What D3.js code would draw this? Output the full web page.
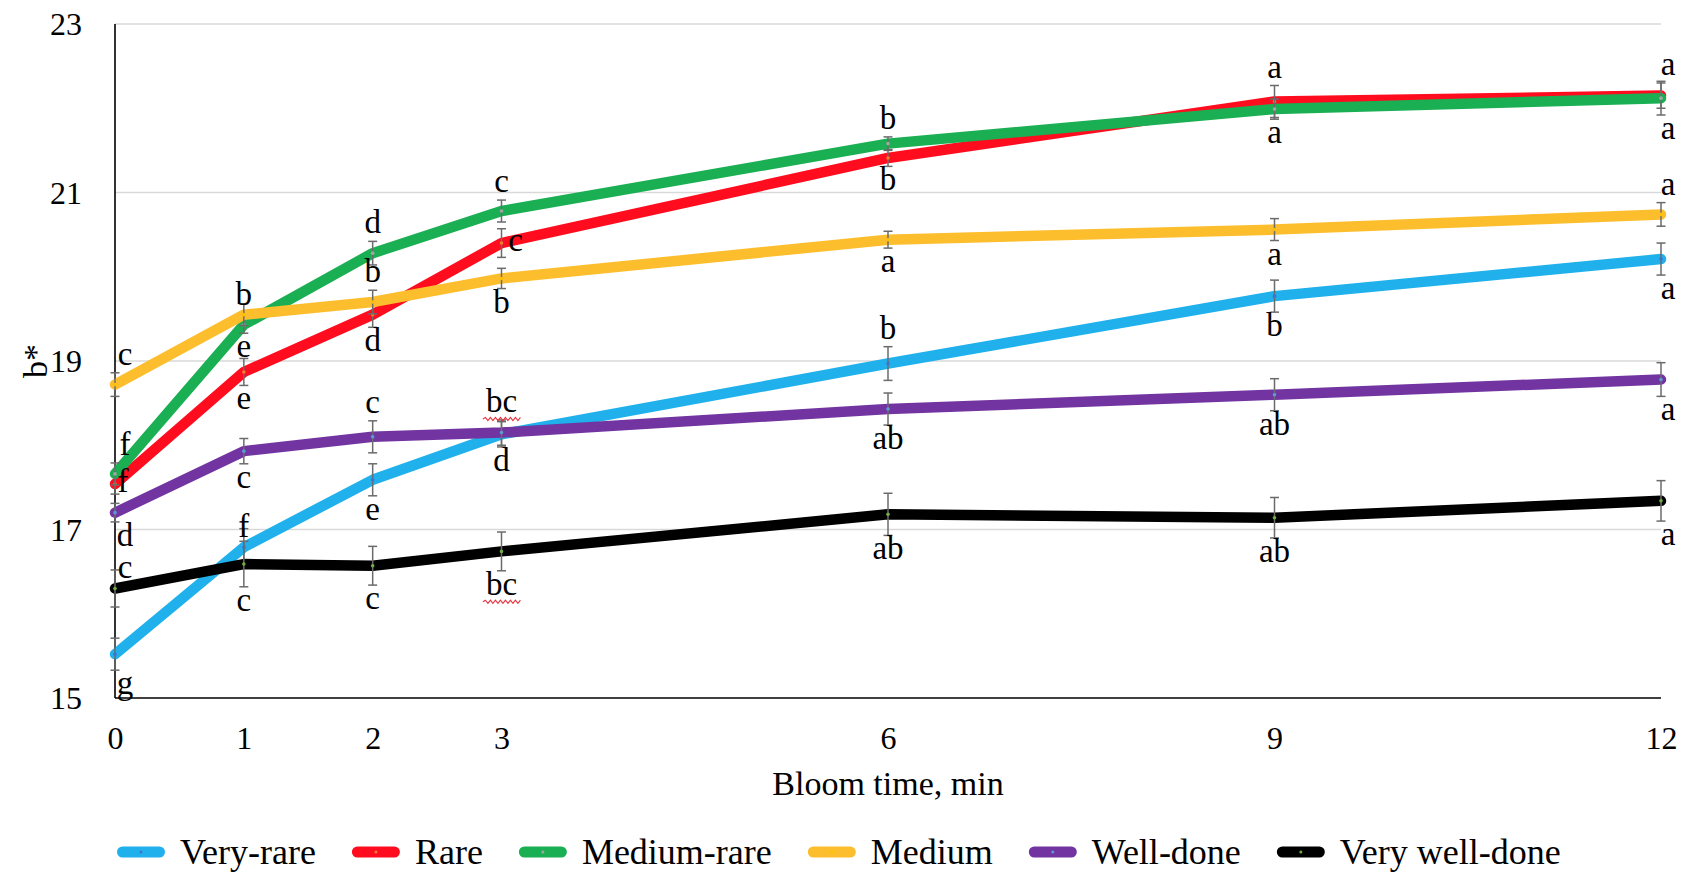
<!DOCTYPE html>
<html>
<head>
<meta charset="utf-8">
<script src="https://cdn.jsdelivr.net/npm/d3@7"></script>
<style>
  html, body { margin: 0; padding: 0; background: #ffffff; }
  svg { display: block; }
  text { font-family: "Liberation Serif", "Times New Roman", serif; fill: #000; }
</style>
</head>
<body>
<svg id="chart" width="1692" height="872"></svg>
<script>
// ---------------- DATA ----------------
const bloomTimes = [0, 1, 2, 3, 6, 9, 12];
const yTicks = [15, 17, 19, 21, 23];
const seriesNames = ["Very-rare", "Rare", "Medium-rare", "Medium", "Well-done", "Very well-done"];

const veryRare      = [15.52, 16.79, 17.59, 18.13, 18.97, 19.77, 20.21];
const rare          = [17.54, 18.87, 19.55, 20.40, 21.41, 22.08, 22.15];
const mediumRare    = [17.66, 19.43, 20.28, 20.78, 21.58, 21.99, 22.12];
const medium        = [18.72, 19.55, 19.70, 19.98, 20.44, 20.56, 20.74];
const wellDone      = [17.20, 17.93, 18.10, 18.15, 18.43, 18.60, 18.78];
const veryWellDone  = [16.30, 16.59, 16.57, 16.74, 17.18, 17.14, 17.34];

const veryRareErr     = [0.19, 0.22, 0.19, 0.15, 0.20, 0.19, 0.19];
const rareErr         = [0.12, 0.16, 0.15, 0.17, 0.10, 0.19, 0.15];
const mediumRareErr   = [0.13, 0.10, 0.14, 0.13, 0.08, 0.12, 0.20];
const mediumErr       = [0.14, 0.13, 0.14, 0.12, 0.10, 0.13, 0.14];
const wellDoneErr     = [0.11, 0.15, 0.19, 0.15, 0.19, 0.19, 0.20];
const veryWellDoneErr = [0.22, 0.27, 0.23, 0.23, 0.25, 0.24, 0.24];

const veryRareLetters     = ["g", "f", "e", "d", "b", "b", "a"];
const rareLetters         = ["f", "e", "d", "c", "b", "a", "a"];
const mediumRareLetters   = ["f", "e", "d", "c", "b", "a", "a"];
const mediumLetters       = ["c", "b", "b", "b", "a", "a", "a"];
const wellDoneLetters     = ["d", "c", "c", "bc", "ab", "ab", "a"];
const veryWellDoneLetters = ["c", "c", "c", "bc", "ab", "ab", "a"];

// where each letter sits relative to its point
const veryRareSide     = ["below", "over", "below", "below", "above", "below", "below"];
const rareSide         = ["right", "below", "below", "right", "below", "above", "above"];
const mediumRareSide   = ["above", "below", "above", "above", "above", "below", "below"];
const mediumSide       = ["above", "over", "above", "below", "below", "below", "above"];
const wellDoneSide     = ["below", "below", "above", "above", "below", "below", "below"];
const veryWellDoneSide = ["over", "below", "below", "below", "below", "below", "below"];

// ---------------- STYLE ----------------
const lineColors   = ["#20B1EC", "#FF0C1E", "#1BAF54", "#FDBE2E", "#7134A0", "#000000"];
const markerColors = ["#4472C4", "#ED7D31", "#A5A5A5", "#FFC000", "#5B9BD5", "#70AD47"];

const seriesValues  = [veryRare, rare, mediumRare, medium, wellDone, veryWellDone];
const seriesErrors  = [veryRareErr, rareErr, mediumRareErr, mediumErr, wellDoneErr, veryWellDoneErr];
const seriesLetters = [veryRareLetters, rareLetters, mediumRareLetters, mediumLetters, wellDoneLetters, veryWellDoneLetters];
const seriesSides   = [veryRareSide, rareSide, mediumRareSide, mediumSide, wellDoneSide, veryWellDoneSide];

const series = seriesNames.map((name, i) => ({
  name,
  color: lineColors[i],
  marker: markerColors[i],
  points: bloomTimes.map((t, j) => ({
    t, v: seriesValues[i][j], e: seriesErrors[i][j],
    letter: seriesLetters[i][j], side: seriesSides[i][j]
  }))
}));

// ---------------- LAYOUT ----------------
const svg = d3.select("#chart");
const plot = { left: 115, right: 1661, top: 24, bottom: 698 };

const x = d3.scaleLinear().domain([0, 12]).range([plot.left, plot.right]);
const y = d3.scaleLinear().domain([15, 23]).range([plot.bottom, plot.top]);

// gridlines
svg.append("g")
  .selectAll("line")
  .data(yTicks.filter(d => d !== 15))
  .join("line")
  .attr("x1", plot.left).attr("x2", plot.right)
  .attr("y1", d => y(d)).attr("y2", d => y(d))
  .attr("stroke", "#d9d9d9").attr("stroke-width", 1.5);

// y axis
const yAxis = svg.append("g")
  .attr("transform", `translate(${plot.left},0)`)
  .call(d3.axisLeft(y).tickValues(yTicks).tickSize(0).tickPadding(33).tickFormat(d3.format("d")));
yAxis.select(".domain").attr("stroke", "#000").attr("stroke-width", 1.6)
  .attr("d", `M0,${plot.top}V${plot.bottom}`);
yAxis.selectAll("text").attr("font-size", 32).attr("dy", "0.33em")
  .style("font-family", "'Liberation Serif', 'Times New Roman', serif");

// x axis
const xAxis = svg.append("g")
  .attr("transform", `translate(0,${plot.bottom})`)
  .call(d3.axisBottom(x).tickValues(bloomTimes).tickSize(0).tickPadding(28).tickFormat(d3.format("d")));
xAxis.select(".domain").attr("stroke", "#000").attr("stroke-width", 1.6)
  .attr("d", `M${plot.left},0H${plot.right}`);
xAxis.selectAll("text").attr("font-size", 32).attr("dy", "0.71em")
  .style("font-family", "'Liberation Serif', 'Times New Roman', serif");

// axis titles
svg.append("text")
  .attr("x", (plot.left + plot.right) / 2).attr("y", 795)
  .attr("text-anchor", "middle").attr("font-size", 34)
  .text("Bloom time, min");

svg.append("text")
  .attr("transform", `translate(47,${(plot.top + plot.bottom) / 2}) rotate(-90)`)
  .attr("text-anchor", "middle").attr("font-size", 34)
  .text("b*");

// ---------------- SERIES ----------------
const line = d3.line().x(d => x(d.t)).y(d => y(d.v));
const capHalf = 4.5;

series.forEach(s => {
  const g = svg.append("g");
  g.append("path")
    .datum(s.points)
    .attr("d", line)
    .attr("fill", "none")
    .attr("stroke", s.color)
    .attr("stroke-width", 10.5)
    .attr("stroke-linejoin", "round")
    .attr("stroke-linecap", "round");

  const eb = g.append("g").attr("stroke", "#6b6b6b").attr("stroke-width", 1.5);
  s.points.forEach(p => {
    const cx = x(p.t), y1 = y(p.v + p.e), y2 = y(p.v - p.e);
    eb.append("line").attr("x1", cx).attr("x2", cx).attr("y1", y1).attr("y2", y2);
    eb.append("line").attr("x1", cx - capHalf).attr("x2", cx + capHalf).attr("y1", y1).attr("y2", y1);
    eb.append("line").attr("x1", cx - capHalf).attr("x2", cx + capHalf).attr("y1", y2).attr("y2", y2);
  });

  g.selectAll("circle")
    .data(s.points)
    .join("circle")
    .attr("cx", d => x(d.t)).attr("cy", d => y(d.v))
    .attr("r", 1.8).attr("fill", s.marker);
});

// ---------------- SIGNIFICANCE LETTERS ----------------
const labelG = svg.append("g");
series.forEach(s => {
  s.points.forEach(p => {
    let lx = x(p.t), ly;
    const edge = p.t === 0 ? 10 : (p.t === 12 ? 7 : 0);
    if (p.side === "above") { ly = y(p.v + p.e) - 8; lx += edge; }
    else if (p.side === "below") { ly = y(p.v - p.e) + 24; lx += edge; }
    else if (p.side === "over") { ly = y(p.v) - 10; lx += edge; }
    else { lx += (p.t === 0 ? 8 : 14); ly = y(p.v) + 8; }
    const t = labelG.append("text")
      .attr("x", lx).attr("y", ly)
      .attr("text-anchor", "middle").attr("font-size", 33)
      .text(p.letter);
    if (p.letter === "bc") {
      // spell-check squiggle present under "bc" in the source figure
      const w = t.node().getComputedTextLength();
      const x0 = lx - w / 2 - 3, x1 = lx + w / 2 + 3, yy = ly + 7;
      const path = d3.path();
      path.moveTo(x0, yy);
      let k = 0;
      for (let xx = x0; xx < x1; xx += 2.5) {
        path.lineTo(xx + 2.5, yy + (k % 2 === 0 ? -1.6 : 1.6));
        k++;
      }
      labelG.append("path").attr("d", path.toString())
        .attr("fill", "none").attr("stroke", "#e8323c").attr("stroke-width", 1.1);
    }
  });
});

// ---------------- LEGEND ----------------
const legend = svg.append("g");
const legendY = 852;
let cursor = 117;
series.forEach(s => {
  const item = legend.append("g");
  item.append("line")
    .attr("x1", cursor + 5.5).attr("x2", cursor + 48 - 5.5)
    .attr("y1", legendY).attr("y2", legendY)
    .attr("stroke", s.color).attr("stroke-width", 11).attr("stroke-linecap", "round");
  item.append("circle").attr("cx", cursor + 24).attr("cy", legendY).attr("r", 1.5).attr("fill", s.marker);
  const txt = item.append("text")
    .attr("x", cursor + 63).attr("y", legendY + 12)
    .attr("font-size", 36).text(s.name);
  cursor += 63 + txt.node().getComputedTextLength() + 36;
});
</script>
</body>
</html>
